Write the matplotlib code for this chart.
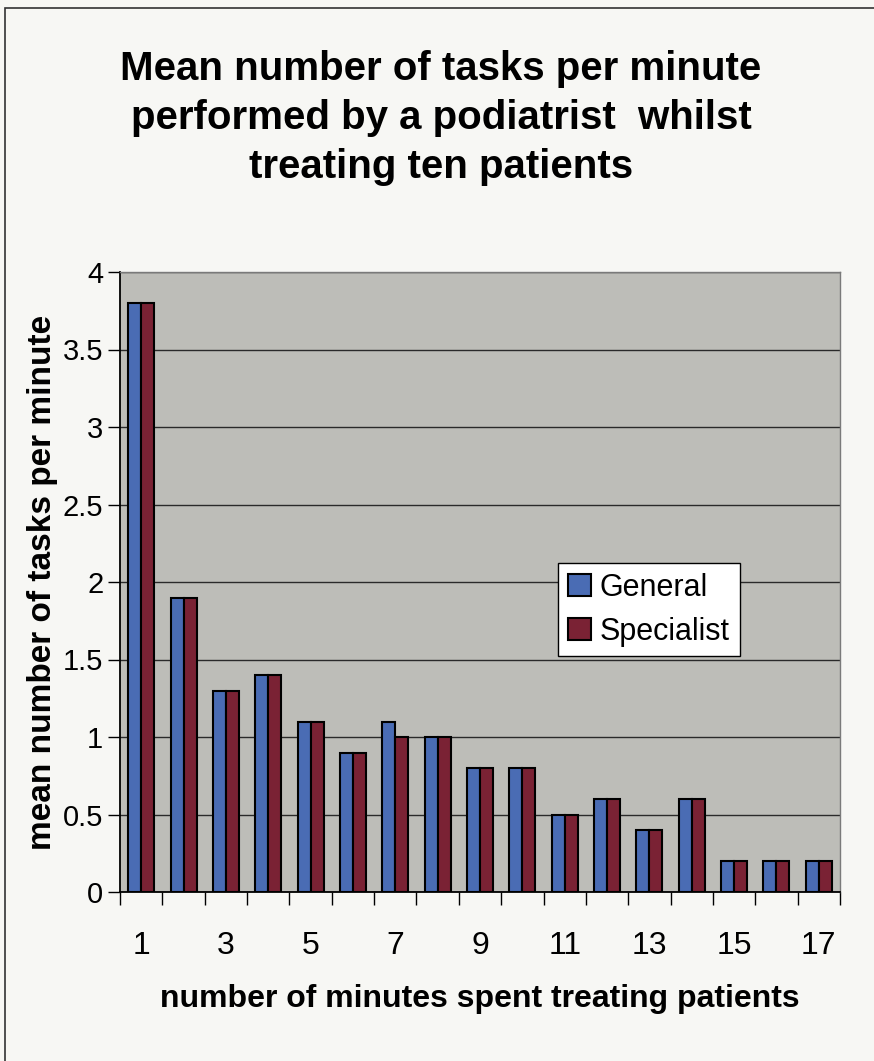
import matplotlib
matplotlib.use("Agg")
import matplotlib.pyplot as plt
import numpy as np
from matplotlib.patches import Rectangle

minutes = list(range(1, 18))
general = [3.8, 1.9, 1.3, 1.4, 1.1, 0.9, 1.1, 1.0, 0.8, 0.8, 0.5, 0.6, 0.4, 0.6, 0.2, 0.2, 0.2]
specialist = [3.8, 1.9, 1.3, 1.4, 1.1, 0.9, 1.0, 1.0, 0.8, 0.8, 0.5, 0.6, 0.4, 0.6, 0.2, 0.2, 0.2]
series_names = ["General", "Specialist"]
yticks = [0, 0.5, 1, 1.5, 2, 2.5, 3, 3.5, 4]
ytick_labels = ["0", "0.5", "1", "1.5", "2", "2.5", "3", "3.5", "4"]
title = "Mean number of tasks per minute\nperformed by a podiatrist  whilst\ntreating ten patients"
xlabel = "number of minutes spent treating patients"
ylabel = "mean number of tasks per minute"

FONT = ["Liberation Sans", "DejaVu Sans"]
plt.rcParams["font.family"] = FONT

W, H = 874, 1061
fig = plt.figure(figsize=(W / 100, H / 100), dpi=100)
fig.patch.set_facecolor("#f7f7f4")

# chart frame
fig.patches.append(Rectangle((5 / W, -0.1), 1.2, 1 - 8 / H + 0.1, transform=fig.transFigure,
                             fill=False, edgecolor="#333333", linewidth=1.2))

left, right, top, bottom = 120, 840, 272, 892
ax = fig.add_axes([left / W, 1 - bottom / H, (right - left) / W, (bottom - top) / H])
ax.set_facecolor("#bdbdb8")

x = np.arange(len(minutes))
bw = 0.307
ax.bar(x - bw / 2, general, width=bw, color="#4a6cb4", edgecolor="black", linewidth=1.5,
       label=series_names[0], zorder=3)
ax.bar(x + bw / 2, specialist, width=bw, color="#7a2234", edgecolor="black", linewidth=1.5,
       label=series_names[1], zorder=3)

ax.set_xlim(-0.5, len(minutes) - 0.5)
ax.set_ylim(0, 4)
ax.set_yticks(yticks)
ax.set_yticklabels(ytick_labels)
ax.yaxis.grid(True, color="#2a2a2a", linewidth=1.0, zorder=1)
ax.set_axisbelow(True)

ax.set_xticks(x)
ax.set_xticklabels([str(m) if m % 2 == 1 else "" for m in minutes])
ax.set_xticks(np.arange(-0.5, len(minutes), 1), minor=True)
ax.tick_params(axis="x", which="major", length=0, pad=28, labelsize=23)
ax.tick_params(axis="x", which="minor", length=9, width=1, color="black", direction="out")
ax.tick_params(axis="y", which="major", length=9, width=1, direction="out", labelsize=21, pad=3)

for s in ["left", "bottom"]:
    ax.spines[s].set_color("black")
    ax.spines[s].set_linewidth(1.3)
for s in ["top", "right"]:
    ax.spines[s].set_color("#7a7a7a")
    ax.spines[s].set_linewidth(1.0)

ax.set_xlabel(xlabel, fontsize=23, fontweight="bold", labelpad=17)
ax.set_ylabel(ylabel, fontsize=24, fontweight="bold")
ax.yaxis.set_label_coords((58 - left) / (right - left), 0.5)

leg = ax.legend(loc="upper left", bbox_to_anchor=((558 - left) / (right - left), (bottom - 563) / (bottom - top)),
                fontsize=22, frameon=True, fancybox=False, edgecolor="black", facecolor="white",
                framealpha=1, handlelength=0.75, handleheight=0.75, handletextpad=0.3,
                borderpad=0.32, labelspacing=0.45, borderaxespad=0)
leg.get_frame().set_linewidth(1.0)

fig.text(441 / W, 1 - 118 / H, title, ha="center", va="center",
         fontsize=29, fontweight="bold", linespacing=1.37)

fig.savefig("out.png", dpi=100, facecolor=fig.get_facecolor())
